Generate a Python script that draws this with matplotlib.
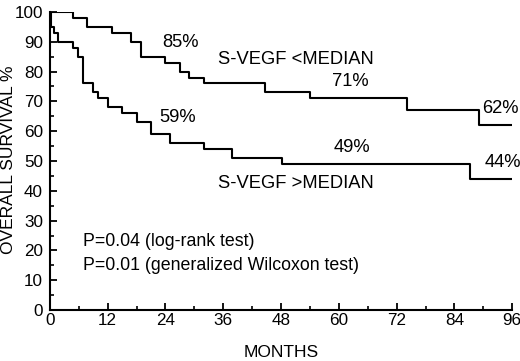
import matplotlib.pyplot as plt
from matplotlib.ticker import MultipleLocator

plt.rcParams['font.family'] = ['Liberation Sans', 'DejaVu Sans']

# S-VEGF < median: step times (months) and survival (%)
low_t = [0, 4.7, 7.8, 12.8, 16.8, 18.9, 23.9, 27, 28.9, 32, 44.7, 54, 74.2, 89.2, 96]
low_s = [100, 98, 95, 93, 90, 85, 83, 80, 78, 76, 73, 71, 67, 62, 62]

# S-VEGF > median
high_t = [0, 0.3, 0.8, 1.7, 4.7, 5.9, 6.8, 8.9, 10, 12, 14.9, 18, 21, 24.9, 32, 37.9, 48.2, 87.2, 96]
high_s = [100, 95, 93, 90, 88, 85, 76, 73, 71, 68, 66, 63, 59, 56, 54, 51, 49, 44, 44]

x_ticks = [0, 12, 24, 36, 48, 60, 72, 84, 96]
y_ticks = [0, 10, 20, 30, 40, 50, 60, 70, 80, 90, 100]

fig = plt.figure(figsize=(5.2, 3.61), dpi=100)
ax = fig.add_axes([0.096, 0.141, 0.889, 0.826])

ax.step(low_t, low_s, where='post', color='black', lw=1.5)
ax.step(high_t, high_s, where='post', color='black', lw=1.5)

ax.set_xlim(0, 96)
ax.set_ylim(0, 100)
ax.set_xticks(x_ticks)
ax.set_yticks(y_ticks)
ax.xaxis.set_minor_locator(MultipleLocator(6))
ax.yaxis.set_minor_locator(MultipleLocator(5))
ax.tick_params(which='major', direction='in', length=5, width=1.3, labelsize=12.3, colors='black')
ax.tick_params(axis='x', which='major', pad=2)
ax.tick_params(axis='y', which='major', pad=5)
ax.tick_params(which='minor', direction='in', length=3, width=1.2)

for s in ['top', 'right']:
    ax.spines[s].set_visible(False)
for s in ['left', 'bottom']:
    ax.spines[s].set_linewidth(1.5)

ax.set_xlabel('MONTHS', fontsize=12.5, labelpad=12)
fig.text(9 / 520, 1 - 160 / 361, 'OVERALL SURVIVAL %', fontsize=12.5,
         rotation=90, ha='center', va='center')

fs = 13.2
ax.text(27.1, 89.8, '85%', fontsize=fs, ha='center', va='center')
ax.text(35, 84, 'S-VEGF <MEDIAN', fontsize=fs, ha='left', va='center')
ax.text(62.4, 76.5, '71%', fontsize=fs, ha='center', va='center')
ax.text(93.6, 67.5, '62%', fontsize=fs, ha='center', va='center')
ax.text(26.5, 64.5, '59%', fontsize=fs, ha='center', va='center')
ax.text(62.8, 54.5, '49%', fontsize=fs, ha='center', va='center')
ax.text(94, 49.5, '44%', fontsize=fs, ha='center', va='center')
ax.text(35, 42.5, 'S-VEGF >MEDIAN', fontsize=fs, ha='left', va='center')
ax.text(6.8, 23, 'P=0.04 (log-rank test)', fontsize=12.8, ha='left', va='center')
ax.text(6.8, 15, 'P=0.01 (generalized Wilcoxon test)', fontsize=12.8, ha='left', va='center')

fig.savefig('out.png', dpi=100)
